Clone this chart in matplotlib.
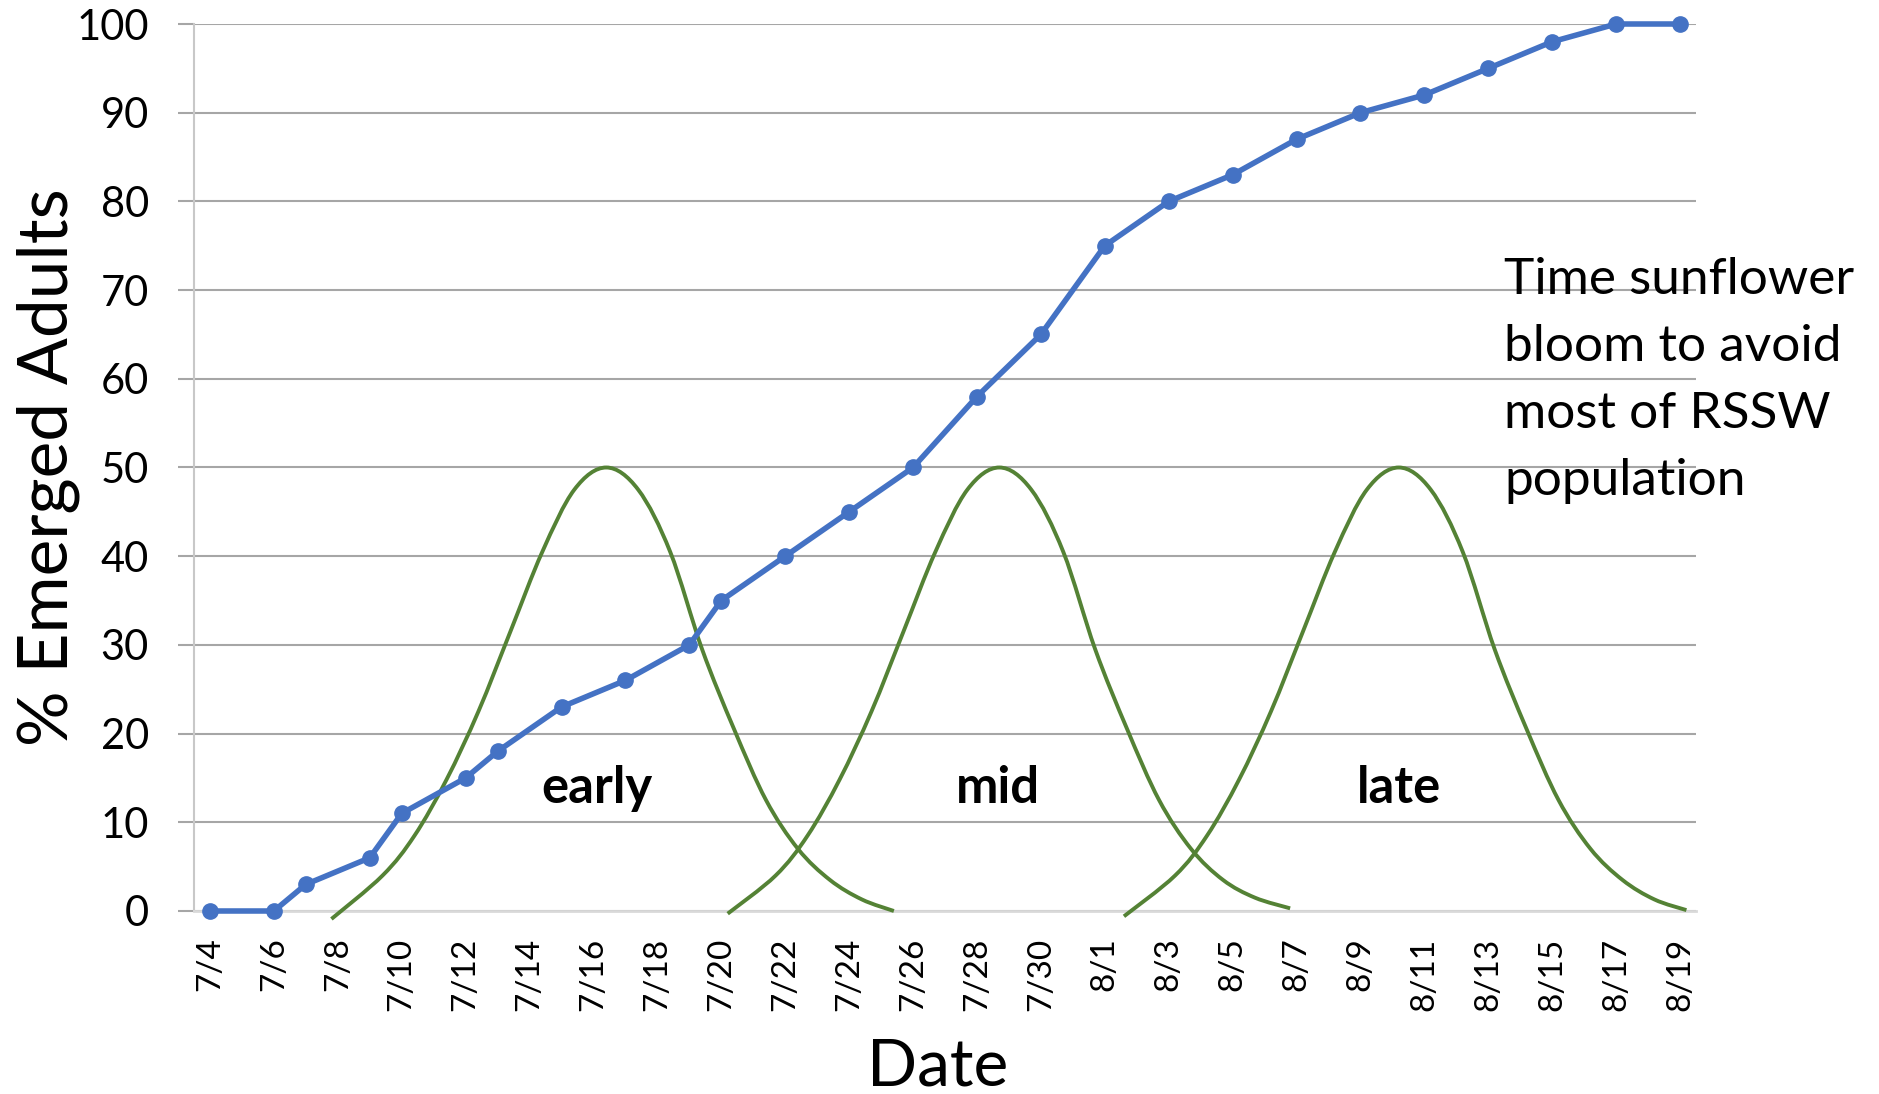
import pandas as pd
import matplotlib
matplotlib.use("Agg")
import matplotlib.pyplot as plt
from matplotlib.path import Path
from matplotlib.patches import PathPatch

plt.rcParams['font.family'] = ['Lato', 'DejaVu Sans']

# etiquetas del eje x (cada 2 dias)
etiquetas = ["7/4", "7/6", "7/8", "7/10", "7/12", "7/14", "7/16", "7/18", "7/20", "7/22",
             "7/24", "7/26", "7/28", "7/30", "8/1", "8/3", "8/5", "8/7", "8/9", "8/11",
             "8/13", "8/15", "8/17", "8/19"]

# adultos emergidos (%)
fechas = ["7/4", "7/6", "7/7", "7/9", "7/10", "7/12", "7/13", "7/15", "7/17", "7/19",
          "7/20", "7/22", "7/24", "7/26", "7/28", "7/30", "8/1", "8/3", "8/5", "8/7",
          "8/9", "8/11", "8/13", "8/15", "8/17", "8/19"]
emergidos = [0, 0, 3, 6, 11, 15, 18, 23, 26, 30, 35, 40, 45, 50, 58, 65, 75, 80, 83, 87,
             90, 92, 95, 98, 100, 100]

# floracion (dias desde 7/4)
early_x = [3.8, 5.4, 6.4, 7.4, 8.4, 9.4, 10.4, 11.4, 12.4, 13.4, 14.4, 15.4, 16.4, 17.4,
           18.4, 19.4, 20.4, 21.4]
early_y = [-0.9, 4, 8.5, 14.8, 22.5, 31.5, 40.5, 47.5, 50, 47.5, 40.5, 29.5, 20.5, 12.5,
           7, 3.5, 1.3, 0]
mid_x = [16.2, 17.7, 18.7, 19.7, 20.7, 21.7, 22.7, 23.7, 24.7, 25.7, 26.7, 27.7, 28.7, 29.7,
         30.7, 31.7, 32.7, 33.8]
mid_y = [-0.3, 4, 8.5, 14.8, 22.5, 31.5, 40.5, 47.5, 50, 47.5, 40.5, 29.5, 20.5, 12.5,
         7, 3.5, 1.5, 0.3]
late_x = [28.6, 30.2, 31.2, 32.2, 33.2, 34.2, 35.2, 36.2, 37.2, 38.2, 39.2, 40.2, 41.2, 42.2,
          43.2, 44.2, 45.2, 46.2]
late_y = [-0.6, 4, 8.5, 14.8, 22.5, 31.5, 40.5, 47.5, 50, 47.5, 40.5, 29.5, 20.5, 12.5,
          7, 3.5, 1.3, 0.1]

nombres = ["early", "mid", "late"]
pos_nombres = [12.1, 24.66, 37.2]

azul = "#4472C4"
verde = "#548235"


def dia(fecha):
    return (pd.to_datetime("2019/" + fecha) - pd.to_datetime("2019/7/4")).days


def curva_suave(xs, ys):
    # bezier tipo excel (catmull-rom)
    pts = list(zip(xs, ys))
    verts = [pts[0]]
    codes = [Path.MOVETO]
    n = len(pts)
    for i in range(n - 1):
        p0 = pts[i - 1] if i > 0 else pts[i]
        p1 = pts[i]
        p2 = pts[i + 1]
        p3 = pts[i + 2] if i + 2 < n else pts[i + 1]
        c1 = (p1[0] + (p2[0] - p0[0]) / 6, p1[1] + (p2[1] - p0[1]) / 6)
        c2 = (p2[0] - (p3[0] - p1[0]) / 6, p2[1] - (p3[1] - p1[1]) / 6)
        verts += [c1, c2, p2]
        codes += [Path.CURVE4] * 3
    return Path(verts, codes)


fig = plt.figure(figsize=(18.79, 10.94), dpi=100)
ax = fig.add_axes([194 / 1879, 1 - 911 / 1094, 1502 / 1879, 887 / 1094])

for xs, ys in [(early_x, early_y), (mid_x, mid_y), (late_x, late_y)]:
    ax.add_patch(PathPatch(curva_suave(xs, ys), fill=False, edgecolor=verde,
                           linewidth=2.8, clip_on=False, zorder=3))

ax.plot([dia(f) for f in fechas], emergidos, color=azul, linewidth=4, marker="o",
        markersize=11, clip_on=False, zorder=4)

for nombre, x in zip(nombres, pos_nombres):
    ax.text(x, 12.2, nombre, ha="center", va="baseline", fontsize=36.5, fontweight="bold")

# va=baseline alinea la ultima linea
ax.text(40.5, 46.9, "Time sunflower\nbloom to avoid\nmost of RSSW\npopulation",
        ha="left", va="baseline", fontsize=37, linespacing=1.57)

ax.set_xlim(-0.5, 46.5)
ax.set_ylim(0, 100)
ax.set_yticks(range(0, 101, 10))
ax.set_xticks([dia(e) for e in etiquetas])
ax.set_xticklabels(etiquetas, rotation=90, fontsize=24)
ax.tick_params(axis="x", length=0, pad=19)
ax.tick_params(axis="y", labelsize=30, length=11.5, width=1.5, color="#A6A6A6", pad=21)

ax.grid(axis="y", color="#A6A6A6", linewidth=1.5)
ax.set_axisbelow(True)
for lado in ["top", "right"]:
    ax.spines[lado].set_visible(False)
ax.spines["left"].set_color("#C8C8C8")
ax.spines["left"].set_linewidth(1.5)
ax.spines["bottom"].set_color("#D9D9D9")
ax.spines["bottom"].set_linewidth(2)

ax.set_xlabel("Date", fontsize=47.5)
ax.xaxis.set_label_coords(0.495, -0.143)
ax.set_ylabel("% Emerged Adults", fontsize=50)
ax.yaxis.set_label_coords(-0.076, 0.5)

fig.savefig("out.png", dpi=100)
